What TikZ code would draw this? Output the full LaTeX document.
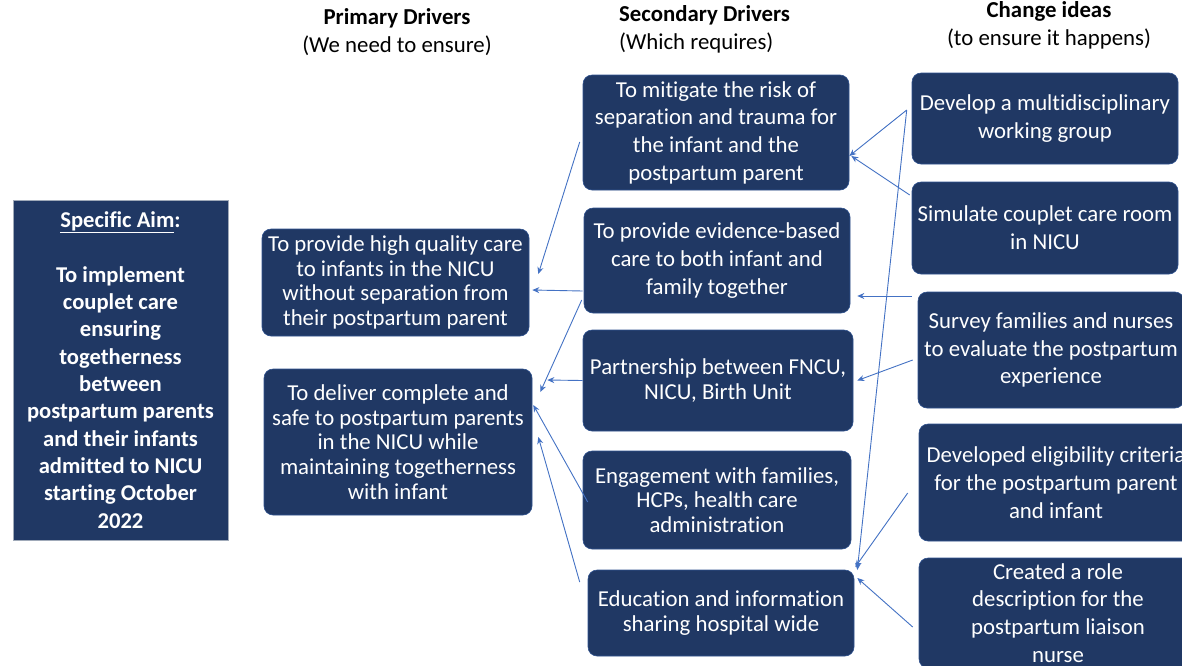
\documentclass[tikz,border=0pt]{standalone}
\usepackage{fontspec}
\setmainfont{Carlito}[Ligatures=NoCommon]
\usetikzlibrary{arrows.meta}
\definecolor{navy}{RGB}{32,56,100}
\definecolor{navyedge}{RGB}{47,82,143}
\definecolor{arrowblue}{RGB}{68,114,196}
\definecolor{aimedge}{RGB}{160,170,185}
\tikzset{
  drvbox/.style={fill=navy, draw=navyedge, line width=0.6pt, rounded corners=9pt, text=white, align=center, inner sep=0pt},
  aimbox/.style={fill=navy, draw=aimedge, line width=0.8pt, text=white, align=center, inner sep=0pt},
  fsA/.style={font=\fontsize{22.8}{24.6}\selectfont},
  fsB/.style={font=\fontsize{22.8}{27.7}\selectfont},
  fsAim/.style={font=\fontsize{22.6}{27.3}\selectfont\bfseries},
  hdr/.style={font=\fontsize{22.8}{28}\selectfont, align=center, inner sep=0pt},
  conn/.style={draw=arrowblue, line width=0.9pt, -{Stealth[length=7pt,width=6pt]}}
}
\begin{document}
\begin{tikzpicture}[x=1pt,y=-1pt]
\useasboundingbox (0,0) rectangle (1182,665);
\clip (0,0) rectangle (1182,665);
\fill[white] (0,0) rectangle (1182,665);

% headers
\node[hdr] (h1) at (397,32) {\textbf{Primary Drivers}\\(We need to ensure)};
\node[hdr, align=left, anchor=west] (h2) at (619,29) {\textbf{Secondary Drivers}\\(Which requires)};
\node[hdr] (h3) at (1049,25) {\textbf{Change ideas}\\(to ensure it happens)};

% aim
\node[aimbox, fsAim, minimum width=215, minimum height=340] (aim) at (120.5,370)
 {\underline{Specific Aim}:\\[27.3pt] To implement\\couplet care\\ensuring\\togetherness\\between\\postpartum parents\\and their infants\\admitted to NICU\\starting October\\2022};

% primary drivers
\node[drvbox, fsA, minimum width=267, minimum height=107] (p1) at (395.5,282.5)
 {To provide high quality care\\to infants in the NICU\\without separation from\\their postpartum parent};
\node[drvbox, fsA, minimum width=268, minimum height=146] (p2) at (398,442)
 {To deliver complete and\\safe to postpartum parents\\in the NICU while\\maintaining togetherness\\with infant};

% secondary drivers
\node[drvbox, fsB, minimum width=266, minimum height=115] (s1) at (716,132.5)
 {To mitigate the risk of\\separation and trauma for\\the infant and the\\postpartum parent};
\node[drvbox, fsB, minimum width=266, minimum height=105] (s2) at (717,260.5)
 {To provide evidence-based\\care to both infant and\\family together};
\node[drvbox, fsA, minimum width=270, minimum height=101] (s3) at (718,380.5)
 {Partnership between FNCU,\\NICU, Birth Unit};
\node[drvbox, fsA, minimum width=268, minimum height=98] (s4) at (717,500)
 {Engagement with families,\\HCPs, health care\\administration};
\node[drvbox, fsA, minimum width=266, minimum height=86] (s5) at (721,613)
 {Education and information\\sharing hospital wide};

% change ideas
\node[drvbox, fsB, minimum width=266, minimum height=91] (c1) at (1045,118.5)
 {Develop a multidisciplinary\\working group};
\node[drvbox, fsB, minimum width=266, minimum height=92] (c2) at (1045,228)
 {Simulate couplet care room\\in NICU};
\node[drvbox, fsB, minimum width=266, minimum height=116] (c3) at (1051,350)
 {Survey families and nurses\\to evaluate the postpartum\\experience};
\node[drvbox, fsB, minimum width=274, minimum height=117] (c4) at (1056,482.5)
 {Developed eligibility criteria\\for the postpartum parent\\and infant};
\node[drvbox, fsB, minimum width=278, minimum height=110] (c5) at (1058,613)
 {Created a role\\description for the\\postpartum liaison\\nurse};

% secondary -> primary
\draw[conn] ([shift={(-3,9.5)}]s1.west) -- ([shift={(9,-8.5)}]p1.east);
\draw[conn] ([shift={(-1,30.5)}]s2.west) -- ([shift={(3,7.5)}]p1.east);
\draw[conn] ([shift={(-2,39.5)}]s2.west) -- ([shift={(8,-50)}]p2.east);
\draw[conn] (s3.west) -- ([shift={(15,-62)}]p2.east);
\draw[conn] ([shift={(5,2)}]s4.west) -- ([shift={(1,-37)}]p2.east);
\draw[conn] ([shift={(-8,-31)}]s5.west) -- ([shift={(6,-5)}]p2.east);

% change -> secondary
\draw[conn] ([shift={(-5,-8.5)}]c1.west) -- ([shift={(0,23.5)}]s1.east);
\draw[conn] ([shift={(-2,-33)}]c2.west) -- ([shift={(2,23.5)}]s1.east);
\draw[conn] ([shift={(-5,-8.5)}]c1.west) -- ([shift={(3,-43)}]s5.east);
\draw[conn] ([shift={(-6,-54)}]c3.west) -- ([shift={(7,35.5)}]s2.east);
\draw[conn] ([shift={(-5,10)}]c3.west) -- ([shift={(4,0)}]s3.east);
\draw[conn] ([shift={(-11,10.5)}]c4.west) -- ([shift={(1,-46)}]s5.east);
\draw[conn] ([shift={(-6,14)}]c5.west) -- ([shift={(3,-35)}]s5.east);
\end{tikzpicture}
\end{document}
